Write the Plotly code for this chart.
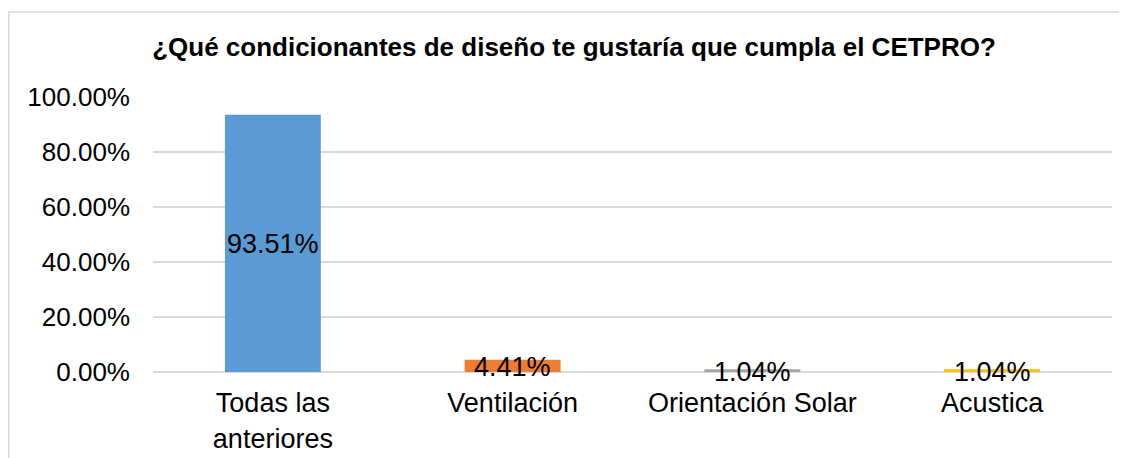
import plotly.graph_objects as go

categories = ["Todas las<br>anteriores", "Ventilación", "Orientación Solar", "Acustica"]
values = [93.51, 4.41, 1.04, 1.04]
labels = ["93.51%", "4.41%", "1.04%", "1.04%"]
colors = ["#5B9BD5", "#ED7D31", "#A5A5A5", "#FFC000"]
tick_vals = [0, 20, 40, 60, 80, 100]
tick_text = ["0.00%", "20.00%", "40.00%", "60.00%", "80.00%", "100.00%"]

OFF = 8  # page body margin
W, H = 1127 - OFF, 458 - OFF
L, R, T, B = 153 - OFF, 15, 97 - OFF, 86

fig = go.Figure()
fig.add_trace(go.Bar(x=categories, y=values, marker=dict(color=colors, line=dict(width=0)),
                     hoverinfo="skip", showlegend=False))
for cat, val, lab in zip(categories, values, labels):
    fig.add_annotation(x=cat, y=val / 2, text=lab, showarrow=False, xanchor="center",
                       yanchor="middle", yshift=-1,
                       font=dict(family="Liberation Sans, Arial", size=27, color="#000000"))

pw = W - L - R
ph = H - T - B
top_y = 12 - OFF
left_x = 8 - OFF
fig.add_shape(type="line", xref="paper", yref="paper",
              x0=(left_x - L) / pw, x1=(W + 5 - L) / pw,
              y0=(H - B - top_y) / ph, y1=(H - B - top_y) / ph,
              line=dict(color="#D9D9D9", width=1.5))
fig.add_shape(type="line", xref="paper", yref="paper",
              x0=(left_x + 0.75 - L) / pw, x1=(left_x + 0.75 - L) / pw,
              y0=(H - B - top_y) / ph, y1=(H - B - H - 10) / ph,
              line=dict(color="#D9D9D9", width=1.5))

fig.update_layout(
    width=W, height=H,
    margin=dict(l=L, r=R, t=T, b=B),
    paper_bgcolor="white", plot_bgcolor="white",
    bargap=0.6,
    font=dict(family="Liberation Sans, Arial", size=26, color="#000000"),
    title=dict(text="<b>¿Qué condicionantes de diseño te gustaría que cumpla el CETPRO?</b>",
               x=(574 - OFF) / W, xanchor="center", xref="container",
               y=1 - (47 - OFF) / H, yanchor="middle", yref="container",
               font=dict(family="Liberation Sans, Arial", size=26, color="#000000")),
    xaxis=dict(showgrid=False, showline=False, ticks="outside", ticklen=7, tickcolor="rgba(0,0,0,0)",
               tickfont=dict(size=27), fixedrange=True, automargin=False),
    yaxis=dict(range=[0, 100], tickvals=tick_vals, ticktext=tick_text, showgrid=True,
               gridcolor="#D9D9D9", gridwidth=1.5, zeroline=True, zerolinecolor="#D9D9D9",
               zerolinewidth=1.5, showline=False, ticks="", ticklabelstandoff=22,
               tickfont=dict(size=26), fixedrange=True, automargin=False),
)

fig.write_html("out.html")
